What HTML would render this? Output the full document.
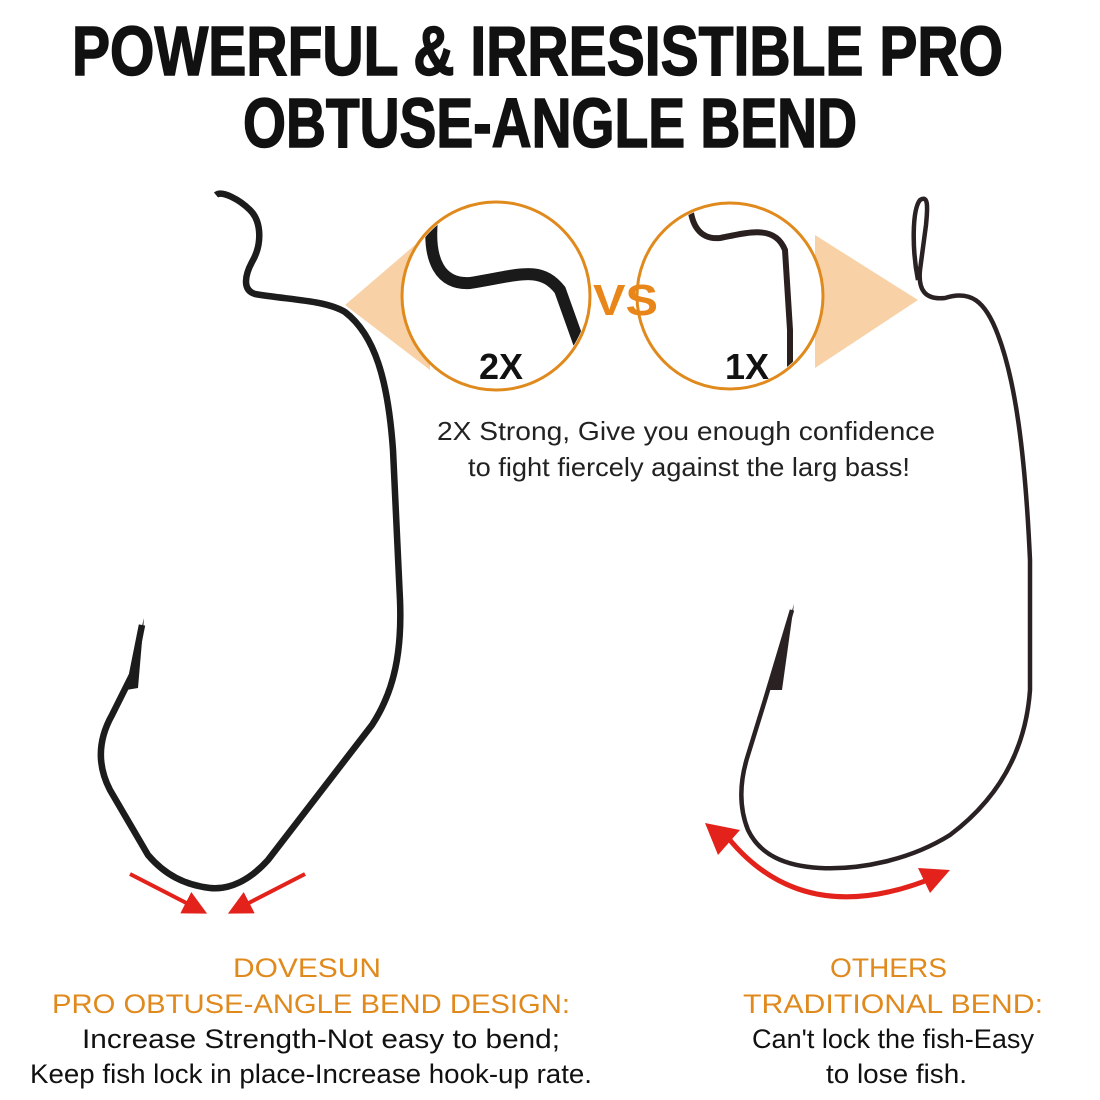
<!DOCTYPE html>
<html><head><meta charset="utf-8"><style>html,body{margin:0;padding:0;background:#fff}svg{display:block}</style></head>
<body>
<svg width="1100" height="1100" viewBox="0 0 1100 1100" xmlns="http://www.w3.org/2000/svg">
<defs>
<marker id="ah" markerWidth="6" markerHeight="6" refX="4" refY="3" orient="auto" markerUnits="strokeWidth"><path d="M0,0 L6,3 L0,6 Z" fill="#e3231b"/></marker>
</defs>
<rect width="1100" height="1100" fill="#fff"/>
<g font-family="'Liberation Sans Narrow','Liberation Sans',sans-serif" font-weight="bold" fill="#111" stroke="#111" stroke-width="1.5">
<text x="72" y="75" font-size="70" textLength="931" lengthAdjust="spacingAndGlyphs">POWERFUL &amp; IRRESISTIBLE PRO</text>
<text x="243" y="147" font-size="70" textLength="614" lengthAdjust="spacingAndGlyphs">OBTUSE-ANGLE BEND</text>
</g>
<!-- cones -->
<polygon points="345,305 430,232 430,370" fill="#f8d2a6"/>
<polygon points="918,300 815,235 815,368" fill="#f8d2a6"/>
<!-- circles -->
<circle cx="496" cy="296" r="94" fill="#fff" stroke="#e08a1e" stroke-width="3"/>
<circle cx="730" cy="296" r="93" fill="#fff" stroke="#e08a1e" stroke-width="3"/>
<clipPath id="c1"><circle cx="496" cy="296" r="92"/></clipPath>
<clipPath id="c2"><circle cx="730" cy="296" r="91"/></clipPath>
<path clip-path="url(#c1)" d="M432,220 C428,260 440,285 470,283 C520,275 540,265 560,290 L585,360" fill="none" stroke="#1a1a1a" stroke-width="12" stroke-linecap="round"/>
<path clip-path="url(#c2)" d="M690,200 C690,225 700,240 720,238 C750,232 775,225 785,250 L790,330 L790,400" fill="none" stroke="#2a2020" stroke-width="6"/>
<text x="593" y="315" font-family="'Liberation Sans Narrow','Liberation Sans',sans-serif" font-weight="bold" font-size="44" fill="#e8861a" textLength="65" lengthAdjust="spacingAndGlyphs">VS</text>
<text x="479" y="379" font-family="'Liberation Sans Narrow','Liberation Sans',sans-serif" font-weight="bold" font-size="36" fill="#111">2X</text>
<text x="725" y="379" font-family="'Liberation Sans Narrow','Liberation Sans',sans-serif" font-weight="bold" font-size="36" fill="#111">1X</text>
<!-- left hook -->
<path d="M216,195 C222,190 240,200 250,210 C262,222 262,245 252,262 C245,275 242,290 255,294 C290,300 325,300 345,312 C375,335 388,380 393,450 L400,600 C402,650 395,690 372,725 L268,860 C250,880 230,890 210,888 C185,885 165,875 148,855 L110,790 C97,765 98,740 112,715 L132,675 L142,625" fill="none" stroke="#1c1c1c" stroke-width="6.5" stroke-linejoin="round"/>
<path d="M144,618 L126,690 L138,688 Z" fill="#1c1c1c"/>
<!-- right hook -->
<path d="M918,280 C912,250 912,210 920,200 C928,195 928,205 926,225 L920,270 C918,290 925,300 945,298 C970,290 985,300 998,335 C1015,380 1025,450 1030,560 L1030,690 C1025,760 990,805 950,835 C910,860 860,870 820,868 C785,866 760,855 748,830 C738,805 740,780 748,755 L765,700 L792,610" fill="none" stroke="#2a2222" stroke-width="4.5" stroke-linejoin="round"/>
<path d="M794,604 L768,690 L782,690 Z" fill="#2a2222"/>
<!-- red arrows -->
<line x1="130" y1="874" x2="200" y2="910" stroke="#e3231b" stroke-width="4" marker-end="url(#ah)"/>
<line x1="305" y1="874" x2="235" y2="910" stroke="#e3231b" stroke-width="4" marker-end="url(#ah)"/>
<path d="M722,830 Q800,935 940,875" fill="none" stroke="#e3231b" stroke-width="5"/>
<path d="M705,823 L740,830 L718,855 Z" fill="#e3231b"/>
<path d="M950,870 L918,868 L930,893 Z" fill="#e3231b"/>
<!-- texts -->
<g font-family="'Liberation Sans',sans-serif" font-size="26" fill="#222">
<text x="437" y="440" textLength="498" lengthAdjust="spacingAndGlyphs">2X Strong, Give you enough confidence</text>
<text x="468" y="476" textLength="442" lengthAdjust="spacingAndGlyphs">to fight fiercely against the larg bass!</text>
</g>
<g font-family="'Liberation Sans',sans-serif" font-size="27" fill="#e08a1e">
<text x="233" y="977" textLength="148" lengthAdjust="spacingAndGlyphs">DOVESUN</text>
<text x="52" y="1013" textLength="518" lengthAdjust="spacingAndGlyphs">PRO OBTUSE-ANGLE BEND DESIGN:</text>
<text x="830" y="977" textLength="117" lengthAdjust="spacingAndGlyphs">OTHERS</text>
<text x="743" y="1013" textLength="300" lengthAdjust="spacingAndGlyphs">TRADITIONAL BEND:</text>
</g>
<g font-family="'Liberation Sans',sans-serif" font-size="27" fill="#111">
<text x="82" y="1048" textLength="478" lengthAdjust="spacingAndGlyphs">Increase Strength-Not easy to bend;</text>
<text x="30" y="1083" textLength="562" lengthAdjust="spacingAndGlyphs">Keep fish lock in place-Increase hook-up rate.</text>
<text x="752" y="1048" textLength="282" lengthAdjust="spacingAndGlyphs">Can't lock the fish-Easy</text>
<text x="826" y="1083" textLength="141" lengthAdjust="spacingAndGlyphs">to lose fish.</text>
</g>
</svg>
</body></html>
